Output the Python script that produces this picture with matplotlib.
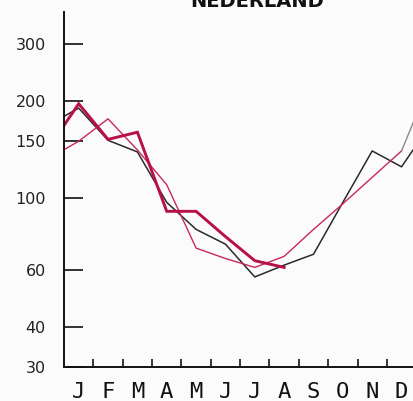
import matplotlib.pyplot as plt
import numpy as np

months = ['J', 'F', 'M', 'A', 'M', 'J', 'J', 'A', 'S', 'O', 'N', 'D']
y_ticks = [30, 40, 60, 100, 150, 200, 300]

# previous Dec, Jan..Dec, next Jan
black_vals = [169, 190, 151, 139, 97, 80, 72, 57, 62, 67, 97, 140, 125, 170]
red_thin_vals = [133, 150, 176, 141, 110, 70, 65, 61, 66, 80, 96, 116, 140, 233]
# previous Dec, Jan..Aug
red_thick_vals = [144, 196, 152, 160, 91, 91, 76, 64, 61]

x_black = np.arange(len(black_vals)) - 0.5
x_thin = np.arange(len(red_thin_vals)) - 0.5
x_thick = np.arange(len(red_thick_vals)) - 0.5

fig = plt.figure(figsize=(4.13, 4.01), dpi=100, facecolor='#fbfbfb')
ax = fig.add_axes([0.155, 0.085, 0.845, 0.885])
ax.set_facecolor('#fbfbfb')

ax.plot(x_black, black_vals, color='#2a2a2a', lw=1.1)
# the wrap-round bit after December looks grey in the scan
ax.plot(x_thin[:-1], red_thin_vals[:-1], color='#c8285a', lw=1.0)
ax.plot(x_thin[-2:], red_thin_vals[-2:], color='#8a8a8a', lw=1.0)
ax.plot(x_thick, red_thick_vals, color='#b8104a', lw=2.1, solid_joinstyle='miter')

ax.set_yscale('log')
ax.set_ylim(30, 377)
ax.set_xlim(0, 11.89)

ax.set_yticks(y_ticks)
ax.set_yticklabels([str(v) for v in y_ticks])
ax.yaxis.set_minor_locator(plt.NullLocator())
ax.tick_params(axis='y', direction='in', length=14, width=1.3, pad=13,
               labelsize=11.5, colors='#222222')

ax.set_xticks(np.arange(1, 12))
ax.set_xticklabels([])
ax.set_xticks(np.arange(12) + 0.5, minor=True)
ax.set_xticklabels(months, minor=True, fontsize=16, family='DejaVu Sans Mono')
ax.tick_params(axis='x', which='major', direction='in', length=6, width=1.1)
ax.tick_params(axis='x', which='minor', length=0, pad=11, colors='#111111')

for s in ['top', 'right']:
    ax.spines[s].set_visible(False)
for s in ['left', 'bottom']:
    ax.spines[s].set_linewidth(1.4)
    ax.spines[s].set_color('#111111')

fig.text(0.623, 0.983, 'NEDERLAND', ha='center', va='baseline',
         fontsize=14, fontweight='bold', color='#111111')

fig.savefig('out.png', dpi=100, facecolor=fig.get_facecolor())
